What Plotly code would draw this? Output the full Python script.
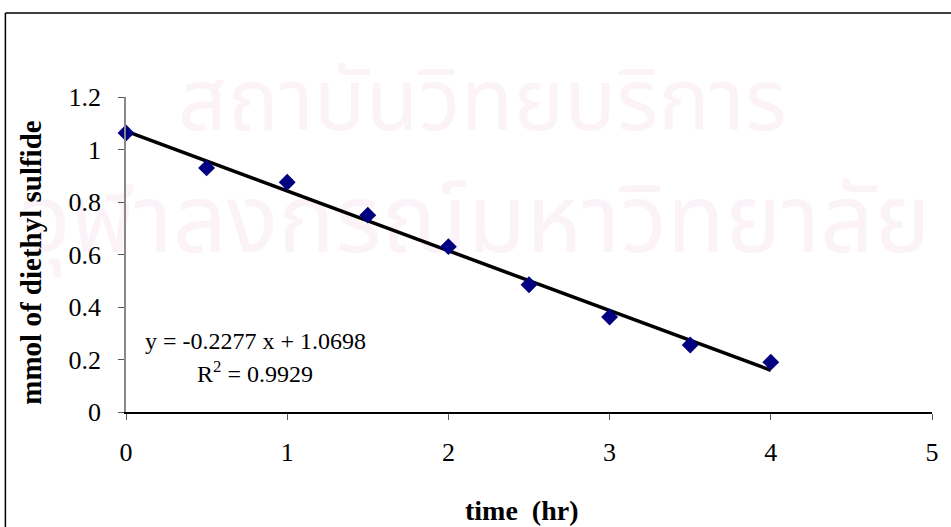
import plotly.graph_objects as go

time_hr = [0, 0.5, 1, 1.5, 2, 2.5, 3, 3.5, 4]
mmol = [1.063, 0.93, 0.875, 0.75, 0.63, 0.485, 0.362, 0.255, 0.19]
slope = -0.2277
intercept = 1.0698
fit_x = [0, 4]
fit_y = [intercept + slope * v for v in fit_x]
x_ticks = [0, 1, 2, 3, 4, 5]
y_ticks = [0, 0.2, 0.4, 0.6, 0.8, 1.0, 1.2]
y_tick_text = ["0", "0.2", "0.4", "0.6", "0.8", "1", "1.2"]
watermark_lines = ["สถาบันวิทยบริการ", "จุฬาลงกรณ์มหาวิทยาลัย"]

FONT = "Liberation Serif, Times New Roman, serif"
THAI = "Noto Sans Thai, Noto Sans, sans-serif"

W, H = 951, 527
L, R, T, B = 126, 13, 97, 115
pw = W - L - R
ph = H - T - B
XR = [0, 5]
YR = [0, 1.2]

def px_to_paper_x(px):
    return (px - L) / pw

def px_to_paper_y(py):
    return (H - B - py) / ph

def px_to_data_x(px):
    return XR[0] + px_to_paper_x(px) * (XR[1] - XR[0])

def px_to_data_y(py):
    return YR[0] + px_to_paper_y(py) * (YR[1] - YR[0])

fig = go.Figure()
# faint watermark drawn first so it sits behind the data
fig.add_trace(go.Scatter(x=[px_to_data_x(485)], y=[px_to_data_y(108)], mode="text",
                         text=[watermark_lines[0]], textposition="middle center",
                         textfont=dict(family=THAI, size=86, color="#fbf3f7"),
                         cliponaxis=False, hoverinfo="skip", showlegend=False))
fig.add_trace(go.Scatter(x=[px_to_data_x(478)], y=[px_to_data_y(228)], mode="text",
                         text=[watermark_lines[1]], textposition="middle center",
                         textfont=dict(family=THAI, size=95, color="#fbf3f7"),
                         cliponaxis=False, hoverinfo="skip", showlegend=False))
fig.add_trace(go.Scatter(x=fit_x, y=fit_y, mode="lines",
                         line=dict(color="black", width=3.5),
                         cliponaxis=False, showlegend=False))
fig.add_trace(go.Scatter(x=time_hr, y=mmol, mode="markers",
                         marker=dict(symbol="diamond", size=13, color="#000080"),
                         cliponaxis=False, showlegend=False))

fig.update_layout(
    width=W, height=H,
    margin=dict(l=L, r=R, t=T, b=B),
    paper_bgcolor="white", plot_bgcolor="white",
    font=dict(family=FONT, size=26, color="black"),
    xaxis=dict(range=XR, tickvals=x_ticks, ticks="outside", ticklen=6,
               tickcolor="#555", showline=True, linecolor="black", linewidth=1.5,
               showgrid=False, zeroline=False, tickfont=dict(size=26), ticklabelstandoff=10),
    yaxis=dict(range=YR, tickvals=y_ticks, ticktext=y_tick_text, ticks="outside",
               ticklen=6, tickcolor="#555", showline=True, linecolor="#888", linewidth=1.5,
               showgrid=False, zeroline=False, tickfont=dict(size=26), ticklabelstandoff=12),
    showlegend=False,
)

annotations = [
    dict(text="y = -0.2277 x + 1.0698", x=px_to_paper_x(256), y=px_to_paper_y(341),
         xref="paper", yref="paper", xanchor="center", yanchor="middle",
         showarrow=False, font=dict(size=24)),
    dict(text="R<sup>2</sup> = 0.9929", x=px_to_paper_x(256), y=px_to_paper_y(372),
         xref="paper", yref="paper", xanchor="center", yanchor="middle",
         showarrow=False, font=dict(size=24)),
    dict(text="<b>time  (hr)</b>", x=px_to_paper_x(525), y=px_to_paper_y(510),
         xref="paper", yref="paper", xanchor="center", yanchor="middle",
         showarrow=False, font=dict(size=28)),
    dict(text="<b>mmol of diethyl sulfide</b>", x=px_to_paper_x(30), y=px_to_paper_y(263),
         xref="paper", yref="paper", xanchor="center", yanchor="middle",
         showarrow=False, textangle=-90, font=dict(size=29)),
]
fig.update_layout(annotations=annotations)

fig.add_shape(type="line", xref="paper", yref="paper",
              x0=px_to_paper_x(4.5), x1=px_to_paper_x(4.5), y0=px_to_paper_y(13), y1=px_to_paper_y(540),
              line=dict(color="black", width=1.5), layer="below")
fig.add_shape(type="line", xref="paper", yref="paper",
              x0=px_to_paper_x(4.5), x1=px_to_paper_x(960), y0=px_to_paper_y(13), y1=px_to_paper_y(13),
              line=dict(color="black", width=1.5), layer="below")

fig.write_html("out.html")
